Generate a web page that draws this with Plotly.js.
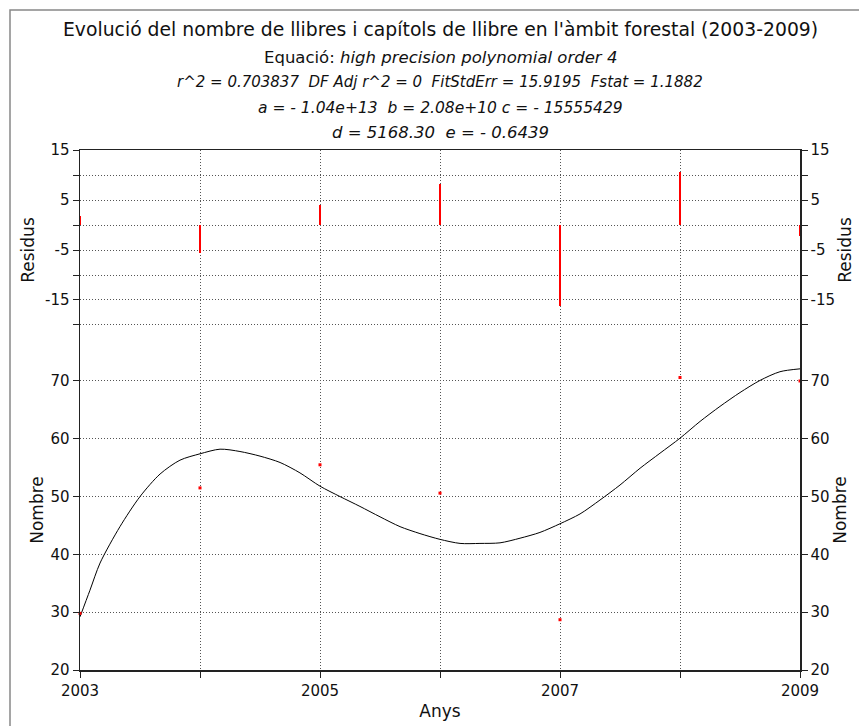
<!DOCTYPE html>
<html>
<head>
<meta charset="utf-8">
<script src="https://cdn.plot.ly/plotly-3.0.1.min.js"></script>
<style>html,body{margin:0;padding:0;background:#fff;}#chart{width:859px;height:726px;}</style>
</head>
<body>
<div id="chart"></div>
<script>
// Observed data
var years = [2003, 2004, 2005, 2006, 2007, 2008, 2009];
var nombre = [29.8, 51.5, 55.5, 50.6, 28.7, 70.6, 70.0];
var residus = [1.8, -5.6, 4.0, 8.3, -16.3, 10.7, -2.1];

// Fitted curve
var fitX = [2003.0, 2003.083, 2003.167, 2003.333, 2003.5, 2003.667, 2003.833, 2004.0, 2004.167, 2004.333, 2004.5, 2004.667, 2004.833, 2005.0, 2005.167, 2005.333, 2005.5, 2005.667, 2005.833, 2006.0, 2006.167, 2006.333, 2006.5, 2006.667, 2006.833, 2007.0, 2007.167, 2007.333, 2007.5, 2007.667, 2007.833, 2008.0, 2008.167, 2008.333, 2008.5, 2008.667, 2008.833, 2009.0];
var fitY = [29.2, 33.8, 38.5, 44.8, 50.0, 53.9, 56.3, 57.4, 58.2, 57.8, 57.0, 55.9, 54.1, 51.8, 50.0, 48.3, 46.5, 44.8, 43.6, 42.6, 41.9, 41.9, 42.0, 42.8, 43.8, 45.3, 47.0, 49.4, 52.0, 54.9, 57.5, 60.1, 63.0, 65.6, 68.0, 70.1, 71.6, 72.1];

// Axis ticks
var xTickVals = [2003, 2004, 2005, 2006, 2007, 2008, 2009];
var xTickText = ['2003', '', '2005', '', '2007', '', '2009'];
var nTickVals = [20, 30, 40, 50, 60, 70];
var rTickVals = [15, 10, 5, 0, -5, -10, -15, -20];
var rTickText = ['15', '', '5', '', '-5', '', '-15', ''];

var titleLines = [
  'Evolució del nombre de llibres i capítols de llibre en l\'àmbit forestal (2003-2009)',
  'Equació: <i>high precision polynomial order 4</i>',
  '<i>r^2 = 0.703837  DF Adj r^2 = 0  FitStdErr = 15.9195  Fstat = 1.1882</i>',
  '<i>a = - 1.04e+13  b = 2.08e+10 c = - 15555429</i>',
  '<i>d = 5168.30  e = - 0.6439</i>'
];

var FONT = 'DejaVu Sans, Arial, sans-serif';
var gridC = '#555';

var traces = [
  {x: fitX, y: fitY, type: 'scatter', mode: 'lines', line: {color: '#000', width: 1, shape: 'spline', smoothing: 0.8}, xaxis: 'x', yaxis: 'y', hoverinfo: 'x+y', showlegend: false},
  {x: years, y: nombre, type: 'scatter', mode: 'markers', marker: {color: '#ff0000', size: 3, symbol: 'square'}, xaxis: 'x', yaxis: 'y', cliponaxis: false, showlegend: false},
  {x: years, y: residus, type: 'bar', base: 0, width: 0.024, marker: {color: '#ff0000', line: {width: 0}}, xaxis: 'x2', yaxis: 'y2', showlegend: false},
  {x: years, y: nombre, type: 'scatter', mode: 'markers', marker: {opacity: 0}, xaxis: 'x', yaxis: 'y3', hoverinfo: 'skip', showlegend: false},
  {x: years, y: residus, type: 'scatter', mode: 'markers', marker: {opacity: 0}, xaxis: 'x2', yaxis: 'y4', hoverinfo: 'skip', showlegend: false}
];

var split = 0.6154;
var annots = [];
var ys = [1.2308, 1.177, 1.1308, 1.0808, 1.0327];
var sizes = [18.8, 16.5, 15, 15.5, 16.5];
for (var i = 0; i < titleLines.length; i++) {
  annots.push({text: titleLines[i], xref: 'paper', yref: 'paper', x: 0.5, y: ys[i], xanchor: 'center', yanchor: 'middle', showarrow: false, font: {family: FONT, size: sizes[i], color: '#111'}});
}

var axisBase = {
  showline: true, linecolor: '#222', linewidth: 1.5,
  ticks: 'outside', ticklen: 6, tickcolor: '#222', tickwidth: 1,
  showgrid: true, gridcolor: gridC, griddash: '1px,2px', gridwidth: 1,
  zeroline: false, tickfont: {family: FONT, size: 15, color: '#111'}
};
function ax(o) { var r = {}; for (var k in axisBase) r[k] = axisBase[k]; for (var k2 in o) r[k2] = o[k2]; return r; }

var layout = {
  width: 859, height: 726,
  margin: {l: 80, r: 59, t: 150, b: 56},
  paper_bgcolor: '#fff', plot_bgcolor: '#fff',
  showlegend: false,
  bargap: 0,
  annotations: annots,
  xaxis: ax({domain: [0, 1], range: [2003, 2009], anchor: 'y', tickmode: 'array', tickvals: xTickVals, ticktext: xTickText,
    title: {text: 'Anys', font: {family: FONT, size: 17, color: '#111'}, standoff: 6}}),
  xaxis2: ax({domain: [0, 1], range: [2003, 2009], anchor: 'y2', side: 'top', matches: 'x', tickmode: 'array', tickvals: xTickVals, showticklabels: false, ticks: '', showline: true}),
  yaxis: ax({domain: [0, split], range: [20, 75.36], anchor: 'x', tickmode: 'array', tickvals: nTickVals,
    title: {text: 'Nombre', font: {family: FONT, size: 17, color: '#111'}, standoff: 2}}),
  yaxis2: ax({domain: [split, 1], range: [-25, 15], anchor: 'x2', tickmode: 'array', tickvals: rTickVals, ticktext: rTickText,
    title: {text: 'Residus', font: {family: FONT, size: 17, color: '#111'}, standoff: 6}}),
  yaxis3: ax({overlaying: 'y', side: 'right', anchor: 'x', range: [20, 75.36], tickmode: 'array', tickvals: nTickVals, showgrid: false,
    title: {text: 'Nombre', font: {family: FONT, size: 17, color: '#111'}, standoff: 5}}),
  yaxis4: ax({overlaying: 'y2', side: 'right', anchor: 'x2', range: [-25, 15], tickmode: 'array', tickvals: rTickVals, ticktext: rTickText, showgrid: false,
    title: {text: 'Residus', font: {family: FONT, size: 17, color: '#111'}, standoff: 5}}),
  shapes: [
    {type: 'rect', xref: 'paper', yref: 'paper', x0: -70/720, x1: 1.2, y0: -0.3, y1: 660/520, line: {color: '#888', width: 1.5}, fillcolor: 'rgba(0,0,0,0)', layer: 'below'}
  ]
};

Plotly.newPlot('chart', traces, layout, {displayModeBar: false, staticPlot: true});
</script>
</body>
</html>
